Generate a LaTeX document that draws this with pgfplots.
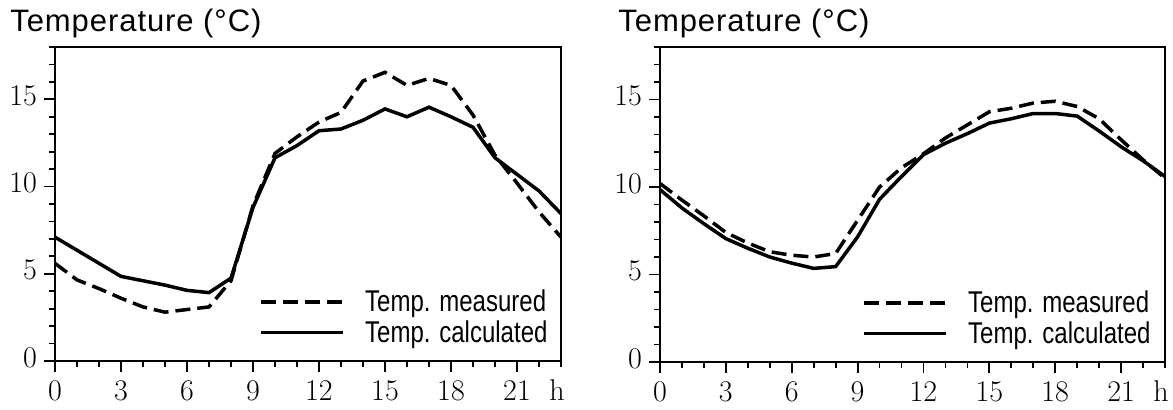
\documentclass[border=0pt]{standalone}
\usepackage{fontspec}
\usepackage{pgfplots}
\pgfplotsset{compat=1.18}
\newfontfamily\plotfont[FakeStretch=0.8]{Liberation Sans}
\newfontfamily\titlefont[LetterSpace=3]{Liberation Sans}

% left: measured / calculated, hourly
\pgfplotstableread{
h meas calc
0 5.6 7.1
1 4.65 6.35
2 4.15 5.6
3 3.6 4.85
4 3.1 4.6
5 2.8 4.35
6 2.95 4.05
7 3.1 3.92
8 4.6 4.75
9 8.9 8.8
10 11.9 11.65
11 12.85 12.35
12 13.7 13.2
13 14.25 13.3
14 16.05 13.8
15 16.55 14.45
16 15.8 14.0
17 16.2 14.55
18 15.8 14.0
19 14.1 13.4
20 11.8 11.65
21 10.2 10.7
22 8.55 9.75
23 7.1 8.45
}\dataA

% right
\pgfplotstableread{
h meas calc
0 10.2 9.85
1 9.25 8.8
2 8.35 7.9
3 7.4 7.05
4 6.8 6.5
5 6.3 6.0
6 6.1 5.65
7 6.0 5.35
8 6.2 5.45
9 8.1 7.15
10 10.0 9.3
11 11.1 10.6
12 11.9 11.85
13 12.8 12.5
14 13.55 13.05
15 14.3 13.65
16 14.5 13.9
17 14.8 14.2
18 14.9 14.2
19 14.6 14.05
20 13.9 13.2
21 12.7 12.3
22 11.55 11.5
23 10.5 10.6
}\dataB

\pgfplotsset{
  tplot/.style={
    scale only axis,
    xmin=0, xmax=23, ymin=0, ymax=18,
    xtick pos=lower, ytick pos=left,
    xtick={0,3,...,21}, xticklabels={0,3,6,9,12,15,18,21},
    minor xtick={0,...,23},
    ytick={0,5,10,15}, yticklabels={0,5,10,15},
    minor ytick={0,...,18},
    extra x ticks={23}, extra x tick labels={h},
    extra x tick style={major tick length=3pt, tick label style={yshift=-2.5pt, xshift=-2pt}},
    tick align=outside,
    major tick length=5.5pt, minor tick length=3pt,
    tick style={line width=0.9pt, black},
    axis line style={line width=1.1pt},
    tick label style={font=\fontsize{15}{15}\selectfont},
    typeset ticklabels with strut,
    legend cell align=left,
    legend image code/.code={\draw[#1] (0pt,0pt) -- (41pt,0pt);},
    legend style={draw=none, fill=none, inner sep=0pt, row sep=0pt,
      font=\plotfont\fontsize{15}{15.5}\selectfont,
      nodes={inner sep=1.5pt},
      /tikz/every odd column/.append style={column sep=8.5pt}},
  },
  meas/.style={black, line width=1.75pt, dash pattern=on 7.5pt off 3.5pt},
  calc/.style={black, line width=1.75pt},
}

\begin{document}
\begin{tikzpicture}
\path[use as bounding box] (0pt,0pt) rectangle (586.5pt,204.5pt);

\begin{axis}[tplot, at={(27.5pt,24pt)}, anchor=south west, width=253pt, height=157pt,
  legend style={at={(rel axis cs:0.98,0.04)}, anchor=south east}]
\addplot[meas] table[x=h, y=meas] {\dataA};
\addplot[calc] table[x=h, y=calc] {\dataA};
\legend{Temp. measured, Temp. calculated}
\end{axis}

\begin{axis}[tplot, at={(330pt,23.5pt)}, anchor=south west, width=252.5pt, height=157.5pt,
  legend style={at={(rel axis cs:0.978,0.04)}, anchor=south east}]
\addplot[meas] table[x=h, y=meas] {\dataB};
\addplot[calc] table[x=h, y=calc] {\dataB};
\legend{Temp. measured, Temp. calculated}
\end{axis}

\node[anchor=base west, inner sep=0pt] at (5pt,189pt)
  {\titlefont\fontsize{15.5}{16}\selectfont Temperature (\textdegree C)};
\node[anchor=base west, inner sep=0pt] at (309pt,189pt)
  {\titlefont\fontsize{15.5}{16}\selectfont Temperature (\textdegree C)};
\end{tikzpicture}
\end{document}
